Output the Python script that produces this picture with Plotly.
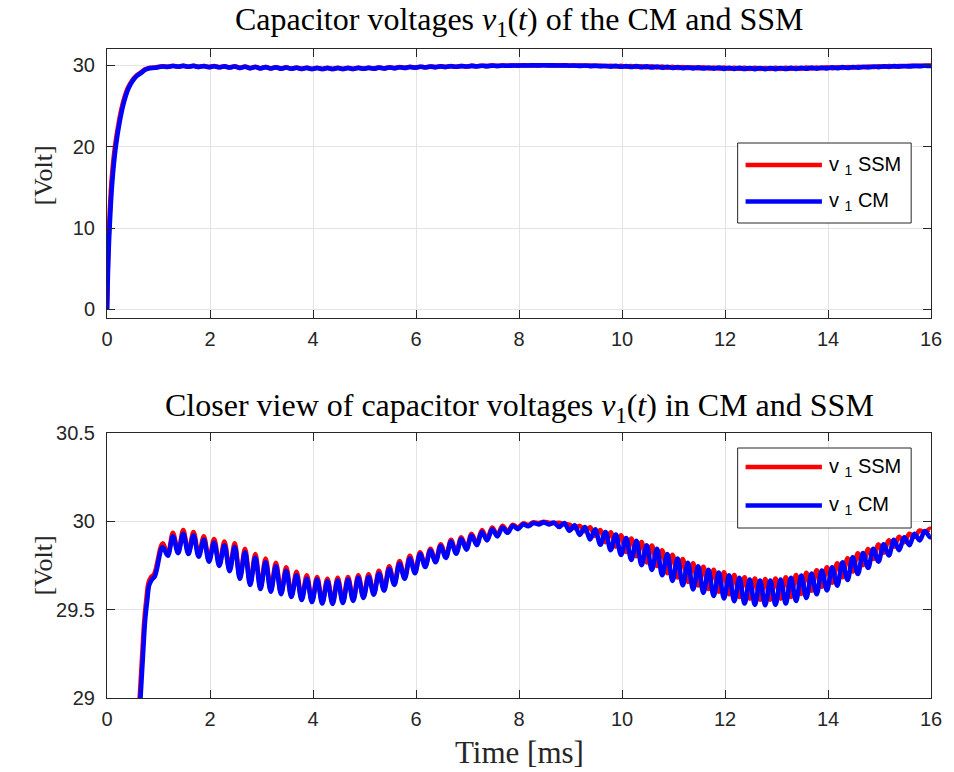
import numpy as np
import plotly.graph_objects as go

# ---------------- data ----------------
# start-up transient (time in ms, voltage in V)
CM_RISE_T = [0, 0.02, 0.05, 0.10, 0.17, 0.25, 0.33, 0.42, 0.50, 0.58, 0.65, 0.70, 0.74, 0.78, 0.82, 0.87, 0.93]
CM_RISE_V = [0, 5.0, 10.0, 15.5, 20.0, 23.2, 25.5, 27.2, 28.1, 28.7, 29.0, 29.25, 29.44, 29.55, 29.64, 29.67, 29.69]
SSM_RISE_T = [0, 0.015, 0.04, 0.085, 0.155, 0.235, 0.315, 0.405, 0.485, 0.565, 0.635, 0.685, 0.725, 0.765, 0.805, 0.855, 0.915]
SSM_RISE_V = [0, 5.0, 10.0, 15.5, 20.0, 23.2, 25.5, 27.2, 28.1, 28.7, 29.0, 29.25, 29.44, 29.56, 29.65, 29.685, 29.70]

# ripple part: samples every 0.1 ms from 1.08 ms (alternating extrema), last sample at 16 ms
RIPPLE_START_MS = 1.08
RIPPLE_STEP_MS = 0.1
END_T = 16.0

CM_RIPPLE_V = [
    29.855, 29.805, 29.915, 29.82, 29.93, 29.815, 29.92, 29.80, 29.895, 29.772,
    29.88, 29.748, 29.865, 29.718, 29.855, 29.675, 29.825, 29.64, 29.795, 29.617,
    29.77, 29.602, 29.745, 29.588, 29.72, 29.572, 29.695, 29.555, 29.675, 29.543,
    29.67, 29.535, 29.66, 29.533, 29.665, 29.538, 29.67, 29.55, 29.68, 29.567,
    29.685, 29.585, 29.705, 29.608, 29.73, 29.64, 29.76, 29.675, 29.79, 29.707,
    29.815, 29.742, 29.835, 29.768, 29.86, 29.793, 29.885, 29.817, 29.90, 29.84,
    29.92, 29.865, 29.94, 29.892, 29.955, 29.915, 29.965, 29.935, 29.975, 29.956,
    29.983, 29.973, 29.99, 29.983, 29.994, 29.983, 29.993, 29.968, 29.99, 29.947,
    29.977, 29.923, 29.968, 29.898, 29.955, 29.868, 29.94, 29.837, 29.925, 29.81,
    29.905, 29.782, 29.89, 29.752, 29.865, 29.725, 29.845, 29.695, 29.815, 29.663,
    29.79, 29.638, 29.765, 29.615, 29.745, 29.595, 29.725, 29.578, 29.71, 29.563,
    29.695, 29.548, 29.68, 29.535, 29.67, 29.528, 29.665, 29.525, 29.665, 29.528,
    29.67, 29.535, 29.68, 29.549, 29.693, 29.566, 29.705, 29.587, 29.722, 29.609,
    29.74, 29.636, 29.768, 29.668, 29.796, 29.702, 29.82, 29.737, 29.845, 29.772,
    29.87, 29.807, 29.895, 29.837, 29.91, 29.865, 29.93, 29.892, 29.945, 29.91,
]
CM_END_V = 29.92

SSM_RIPPLE_V = [
    29.875, 29.813, 29.935, 29.828, 29.95, 29.823, 29.94, 29.808, 29.915, 29.78,
    29.90, 29.756, 29.885, 29.726, 29.875, 29.683, 29.845, 29.648, 29.815, 29.625,
    29.79, 29.61, 29.765, 29.596, 29.74, 29.58, 29.715, 29.563, 29.695, 29.551,
    29.685, 29.543, 29.675, 29.541, 29.68, 29.546, 29.685, 29.558, 29.695, 29.575,
    29.70, 29.593, 29.72, 29.616, 29.745, 29.648, 29.775, 29.683, 29.805, 29.715,
    29.825, 29.75, 29.845, 29.776, 29.87, 29.801, 29.895, 29.825, 29.91, 29.848,
    29.93, 29.873, 29.95, 29.90, 29.965, 29.923, 29.975, 29.943, 29.98, 29.964,
    29.988, 29.98, 29.995, 29.99, 29.997, 29.992, 29.989, 29.992, 29.983, 29.981,
    29.961, 29.974, 29.944, 29.966, 29.917, 29.951, 29.882, 29.938, 29.857, 29.921,
    29.827, 29.903, 29.802, 29.883, 29.767, 29.863, 29.747, 29.836, 29.707, 29.811,
    29.682, 29.786, 29.657, 29.763, 29.637, 29.743, 29.617, 29.726, 29.602, 29.711,
    29.587, 29.696, 29.572, 29.683, 29.562, 29.676, 29.557, 29.673, 29.557, 29.676,
    29.562, 29.683, 29.572, 29.696, 29.589, 29.709, 29.607, 29.723, 29.63, 29.74,
    29.652, 29.763, 29.684, 29.791, 29.716, 29.819, 29.752, 29.843, 29.787, 29.868,
    29.822, 29.893, 29.857, 29.913, 29.882, 29.93, 29.912, 29.948, 29.937, 29.958,
]
SSM_END_V = 29.955

X_TICKS = [0, 2, 4, 6, 8, 10, 12, 14, 16]
Y1_TICKS = [0, 10, 20, 30]
Y2_TICKS = [29, 29.5, 30, 30.5]
Y2_TICKTEXT = ["29", "29.5", "30", "30.5"]

# ---------------- assemble series ----------------
ripple_t = list(np.round(RIPPLE_START_MS + RIPPLE_STEP_MS * np.arange(len(CM_RIPPLE_V)), 3))
cm_t = CM_RISE_T + ripple_t + [END_T]
cm_v = CM_RISE_V + CM_RIPPLE_V + [CM_END_V]
ssm_t = SSM_RISE_T + ripple_t + [END_T]
ssm_v = SSM_RISE_V + SSM_RIPPLE_V + [SSM_END_V]

RED = "#ff0000"
BLUE = "#0000ff"
AX = "#262626"
GRID = "#e3e3e3"
SERIF = "Liberation Serif, Times New Roman, serif"
SANS = "Liberation Sans, Arial, sans-serif"
LW = 4.6

fig = go.Figure()
for xa, ya in (("x", "y"), ("x2", "y2")):
    fig.add_trace(go.Scatter(x=ssm_t, y=ssm_v, mode="lines", xaxis=xa, yaxis=ya,
                             line=dict(color=RED, width=LW, shape="spline", smoothing=1.0),
                             showlegend=False, hoverinfo="skip"))
    fig.add_trace(go.Scatter(x=cm_t, y=cm_v, mode="lines", xaxis=xa, yaxis=ya,
                             line=dict(color=BLUE, width=LW, shape="spline", smoothing=1.0),
                             showlegend=False, hoverinfo="skip"))

axis_common = dict(
    showline=True, linecolor=AX, linewidth=1, mirror="ticks",
    ticks="inside", ticklen=8, tickcolor=AX, tickwidth=1,
    showgrid=True, gridcolor=GRID, gridwidth=1, zeroline=False,
    tickfont=dict(family=SANS, size=20, color=AX),
)

# plot area in pixels: x 107..938, y 49..698
L, R, T, B = 107, 16, 49, 74
W, H = 954, 772
PW = W - L - R
PH = H - T - B


def px(xp):
    return (xp - L) / PW


def py(yp):
    return (H - B - yp) / PH


fig.update_layout(
    width=W, height=H,
    margin=dict(l=L, r=R, t=T, b=B),
    paper_bgcolor="white", plot_bgcolor="white",
    xaxis=dict(domain=[0, 1], anchor="y", range=[0, 16], tickvals=X_TICKS,
               ticklabelstandoff=3, **axis_common),
    yaxis=dict(domain=[py(317.5), 1], anchor="x", range=[-1, 32], tickvals=Y1_TICKS,
               ticklabelstandoff=7, **axis_common),
    xaxis2=dict(domain=[0, 1], anchor="y2", range=[0, 16], tickvals=X_TICKS,
                ticklabelstandoff=3, **axis_common),
    yaxis2=dict(domain=[0, py(433)], anchor="x2", range=[29, 30.5], tickvals=Y2_TICKS,
                ticktext=Y2_TICKTEXT, ticklabelstandoff=7, **axis_common),
)

ann = []
ann.append(dict(text="Capacitor voltages <i>v</i><sub>1</sub>(<i>t</i>) of the CM and SSM",
                x=px(523), y=py(22), xref="paper", yref="paper", showarrow=False,
                xanchor="center", yanchor="middle", font=dict(family=SERIF, size=32, color="black")))
ann.append(dict(text="Closer view of capacitor voltages <i>v</i><sub>1</sub>(<i>t</i>) in CM and SSM",
                x=px(523), y=py(407), xref="paper", yref="paper", showarrow=False,
                xanchor="center", yanchor="middle", font=dict(family=SERIF, size=32, color="black")))
ann.append(dict(text="[Volt]", x=px(42), y=py(176), xref="paper", yref="paper", showarrow=False,
                textangle=-90, xanchor="center", yanchor="middle",
                font=dict(family=SERIF, size=26, color=AX)))
ann.append(dict(text="[Volt]", x=px(42), y=py(566), xref="paper", yref="paper", showarrow=False,
                textangle=-90, xanchor="center", yanchor="middle",
                font=dict(family=SERIF, size=26, color=AX)))
ann.append(dict(text="Time [ms]", x=px(523), y=py(752), xref="paper", yref="paper", showarrow=False,
                xanchor="center", yanchor="middle", font=dict(family=SERIF, size=31, color=AX)))

shapes = []


def legend_box(top, bottom, y_red, y_blue):
    shapes.append(dict(type="rect", xref="paper", yref="paper",
                       x0=px(743), x1=px(918), y0=py(bottom), y1=py(top),
                       line=dict(color=AX, width=1), fillcolor="white", layer="above"))
    for yy, col, name in ((y_red, RED, "SSM"), (y_blue, BLUE, "CM")):
        shapes.append(dict(type="line", xref="paper", yref="paper",
                           x0=px(751), x1=px(828), y0=py(yy), y1=py(yy),
                           line=dict(color=col, width=LW), layer="above"))
        ann.append(dict(text="v <sub>1</sub> " + name, x=px(833), y=py(yy), xref="paper", yref="paper",
                        showarrow=False, xanchor="left", yanchor="middle",
                        font=dict(family=SANS, size=20, color="black")))


legend_box(143, 223, 165, 201.5)
legend_box(448, 528, 467, 505.5)

fig.update_layout(annotations=ann, shapes=shapes)
fig.write_html("out.html")
